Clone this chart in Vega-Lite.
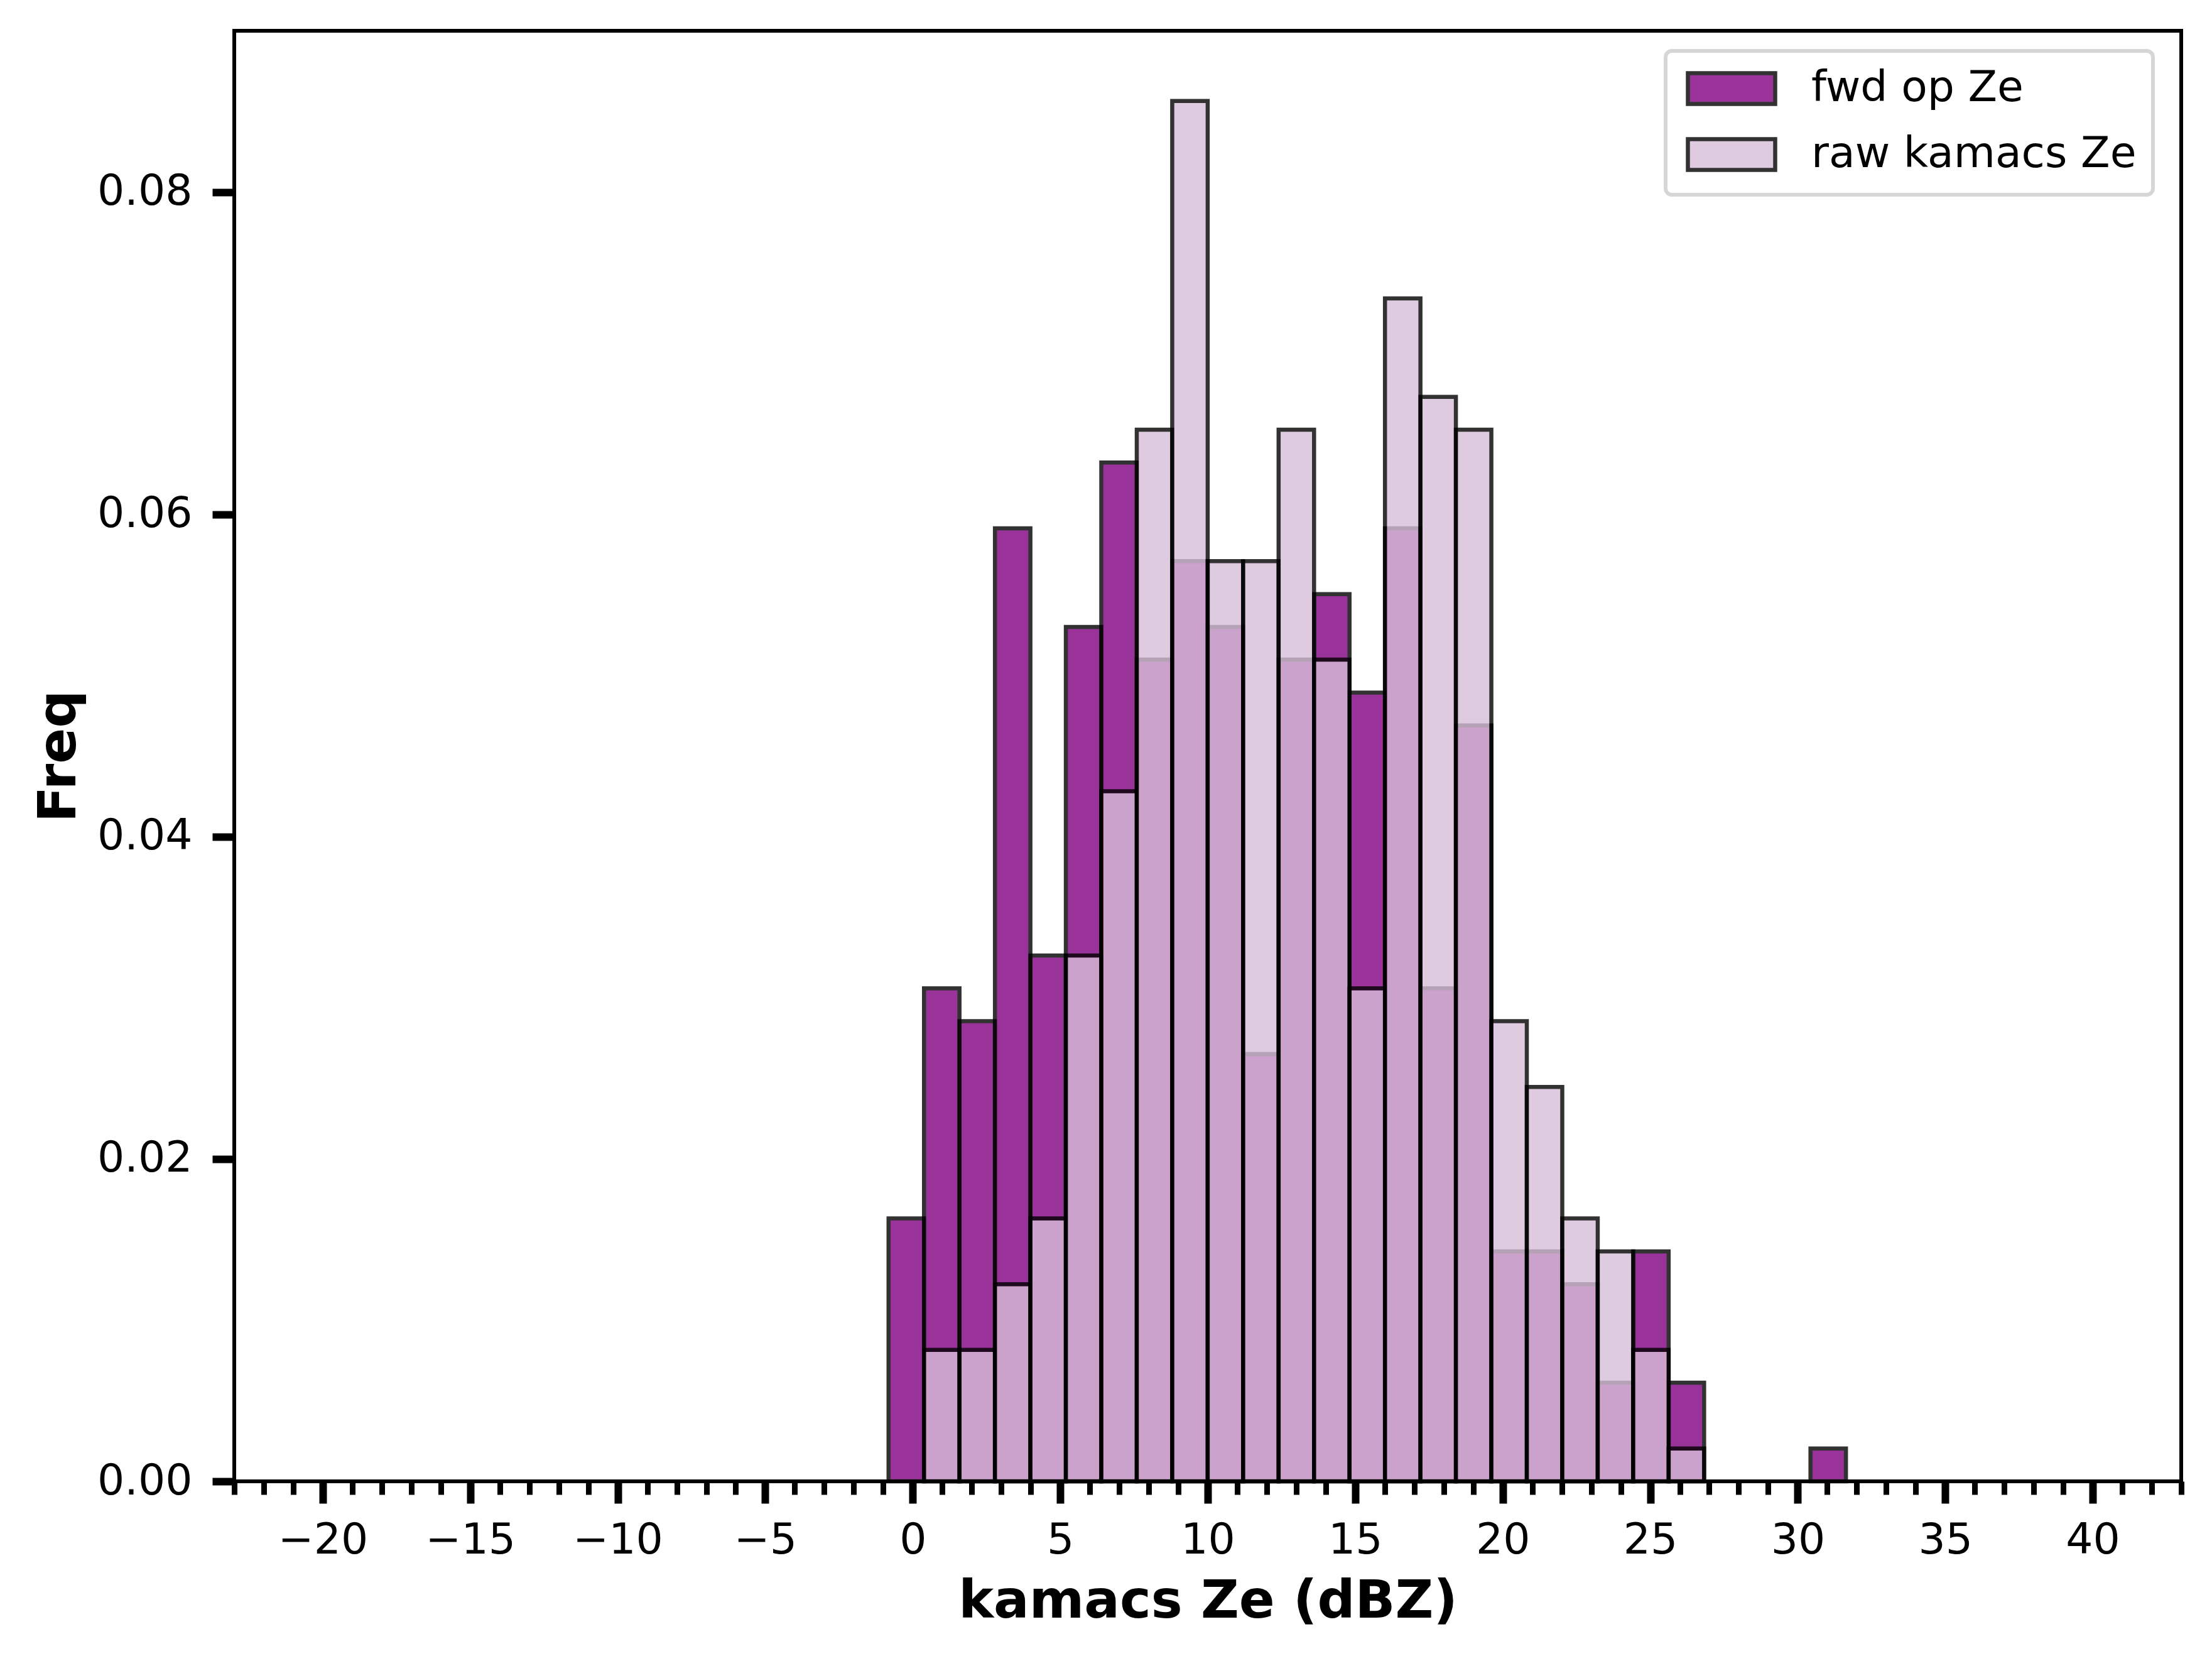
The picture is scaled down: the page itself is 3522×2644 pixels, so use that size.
{
  "$schema": "https://vega.github.io/schema/vega-lite/v6.json",
  "width": 3100,
  "height": 2309,
  "autosize": {"type": "none"},
  "padding": {"left": 373, "top": 49, "right": 49, "bottom": 286},
  "background": "white",
  "config": {
    "view": {"stroke": "black", "strokeWidth": 6},
    "axis": {
      "labelFont": "DejaVu Sans",
      "titleFont": "DejaVu Sans",
      "labelColor": "black",
      "titleColor": "black",
      "tickColor": "black",
      "domain": false,
      "grid": false
    }
  },
  "data": {
    "values": [
      {"series": "fwd op Ze", "start": -0.82, "end": 0.382, "freq": 0.01631},
      {"series": "fwd op Ze", "start": 0.382, "end": 1.584, "freq": 0.03059},
      {"series": "fwd op Ze", "start": 1.584, "end": 2.786, "freq": 0.02855},
      {"series": "fwd op Ze", "start": 2.786, "end": 3.988, "freq": 0.05913},
      {"series": "fwd op Ze", "start": 3.988, "end": 5.19, "freq": 0.03262},
      {"series": "fwd op Ze", "start": 5.19, "end": 6.392, "freq": 0.05301},
      {"series": "fwd op Ze", "start": 6.392, "end": 7.594, "freq": 0.06321},
      {"series": "fwd op Ze", "start": 7.594, "end": 8.796, "freq": 0.05098},
      {"series": "fwd op Ze", "start": 8.796, "end": 9.998, "freq": 0.05709},
      {"series": "fwd op Ze", "start": 9.998, "end": 11.2, "freq": 0.05301},
      {"series": "fwd op Ze", "start": 11.2, "end": 12.402, "freq": 0.02651},
      {"series": "fwd op Ze", "start": 12.402, "end": 13.604, "freq": 0.05098},
      {"series": "fwd op Ze", "start": 13.604, "end": 14.806, "freq": 0.05505},
      {"series": "fwd op Ze", "start": 14.806, "end": 16.008, "freq": 0.04894},
      {"series": "fwd op Ze", "start": 16.008, "end": 17.21, "freq": 0.05913},
      {"series": "fwd op Ze", "start": 17.21, "end": 18.412, "freq": 0.03059},
      {"series": "fwd op Ze", "start": 18.412, "end": 19.614, "freq": 0.0469},
      {"series": "fwd op Ze", "start": 19.614, "end": 20.816, "freq": 0.01427},
      {"series": "fwd op Ze", "start": 20.816, "end": 22.018, "freq": 0.01427},
      {"series": "fwd op Ze", "start": 22.018, "end": 23.22, "freq": 0.01223},
      {"series": "fwd op Ze", "start": 23.22, "end": 24.422, "freq": 0.00612},
      {"series": "fwd op Ze", "start": 24.422, "end": 25.624, "freq": 0.01427},
      {"series": "fwd op Ze", "start": 25.624, "end": 26.826, "freq": 0.00612},
      {"series": "fwd op Ze", "start": 30.432, "end": 31.634, "freq": 0.00204},
      {"series": "raw kamacs Ze", "start": 0.382, "end": 1.584, "freq": 0.00816},
      {"series": "raw kamacs Ze", "start": 1.584, "end": 2.786, "freq": 0.00816},
      {"series": "raw kamacs Ze", "start": 2.786, "end": 3.988, "freq": 0.01223},
      {"series": "raw kamacs Ze", "start": 3.988, "end": 5.19, "freq": 0.01631},
      {"series": "raw kamacs Ze", "start": 5.19, "end": 6.392, "freq": 0.03262},
      {"series": "raw kamacs Ze", "start": 6.392, "end": 7.594, "freq": 0.04282},
      {"series": "raw kamacs Ze", "start": 7.594, "end": 8.796, "freq": 0.06525},
      {"series": "raw kamacs Ze", "start": 8.796, "end": 9.998, "freq": 0.08564},
      {"series": "raw kamacs Ze", "start": 9.998, "end": 11.2, "freq": 0.05709},
      {"series": "raw kamacs Ze", "start": 11.2, "end": 12.402, "freq": 0.05709},
      {"series": "raw kamacs Ze", "start": 12.402, "end": 13.604, "freq": 0.06525},
      {"series": "raw kamacs Ze", "start": 13.604, "end": 14.806, "freq": 0.05098},
      {"series": "raw kamacs Ze", "start": 14.806, "end": 16.008, "freq": 0.03059},
      {"series": "raw kamacs Ze", "start": 16.008, "end": 17.21, "freq": 0.0734},
      {"series": "raw kamacs Ze", "start": 17.21, "end": 18.412, "freq": 0.06729},
      {"series": "raw kamacs Ze", "start": 18.412, "end": 19.614, "freq": 0.06525},
      {"series": "raw kamacs Ze", "start": 19.614, "end": 20.816, "freq": 0.02855},
      {"series": "raw kamacs Ze", "start": 20.816, "end": 22.018, "freq": 0.02447},
      {"series": "raw kamacs Ze", "start": 22.018, "end": 23.22, "freq": 0.01631},
      {"series": "raw kamacs Ze", "start": 23.22, "end": 24.422, "freq": 0.01427},
      {"series": "raw kamacs Ze", "start": 24.422, "end": 25.624, "freq": 0.00816},
      {"series": "raw kamacs Ze", "start": 25.624, "end": 26.826, "freq": 0.00204}
    ]
  },
  "mark": {"type": "rect", "stroke": "black", "strokeWidth": 6.5, "opacity": 0.8},
  "encoding": {
    "x": {
      "field": "start",
      "type": "quantitative",
      "scale": {"domain": [-23, 43], "nice": false, "zero": false},
      "axis": {
        "title": "kamacs Ze (dBZ)",
        "titleFontSize": 84,
        "titleFontWeight": "bold",
        "titlePadding": 22,
        "values": [-23,-22,-21,-20,-19,-18,-17,-16,-15,-14,-13,-12,-11,-10,-9,-8,-7,-6,-5,-4,-3,-2,-1,0,1,2,3,4,5,6,7,8,9,10,11,12,13,14,15,16,17,18,19,20,21,22,23,24,25,26,27,28,29,30,31,32,33,34,35,36,37,38,39,40,41,42,43],
        "format": "d",
        "labelExpr": "datum.value % 5 === 0 ? datum.label : ''",
        "labelFontSize": 68,
        "labelPadding": 25,
        "labelOverlap": false,
        "labelFlush": false,
        "labelBound": false,
        "tickSize": {"condition": {"test": "datum.value % 5 === 0", "value": 35}, "value": 21},
        "tickWidth": {"condition": {"test": "datum.value % 5 === 0", "value": 12}, "value": 9}
      }
    },
    "x2": {"field": "end"},
    "y": {
      "field": "freq",
      "type": "quantitative",
      "scale": {"domain": [0, 0.09], "nice": false, "zero": true},
      "axis": {
        "title": "Freq",
        "titleFontSize": 84,
        "titleFontWeight": "bold",
        "titlePadding": 36,
        "values": [0, 0.02, 0.04, 0.06, 0.08],
        "format": ".2f",
        "labelFontSize": 68,
        "labelPadding": 32,
        "tickSize": 35,
        "tickWidth": 12
      }
    },
    "y2": {"datum": 0},
    "color": {
      "field": "series",
      "type": "nominal",
      "scale": {"domain": ["fwd op Ze", "raw kamacs Ze"], "range": ["purple", "thistle"]},
      "legend": {
        "title": null,
        "orient": "none",
        "legendX": 2279,
        "legendY": 32,
        "padding": 26,
        "fillColor": "white",
        "strokeColor": "#D6D6D6",
        "cornerRadius": 10,
        "symbolType": "M-1,-1H4.673V1H-1Z",
        "symbolSize": 2401,
        "symbolStrokeColor": "black",
        "symbolStrokeWidth": 6.5,
        "symbolOpacity": 0.8,
        "labelFont": "DejaVu Sans",
        "labelFontSize": 68,
        "labelColor": "black",
        "labelOffset": 138,
        "rowPadding": 29,
        "labelLimit": 1000,
        "encode": {"legend": {"update": {"strokeWidth": {"value": 6}}}}
      }
    }
  }
}
